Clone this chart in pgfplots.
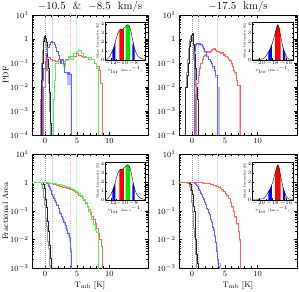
\documentclass[border=0pt]{standalone}
\usepackage{pgfplots}
\pgfplotsset{compat=1.18}
\definecolor{mblue}{rgb}{0.38,0.38,1}
\definecolor{lblue}{rgb}{0.72,0.72,1}
\definecolor{mred}{rgb}{1,0.38,0.38}
\definecolor{lred}{rgb}{1,0.72,0.72}
\definecolor{mgreen}{rgb}{0.35,0.95,0.35}
\definecolor{lgreen}{rgb}{0.55,1,0.55}
\definecolor{igreen}{rgb}{0,0.9,0}
\definecolor{mgray}{rgb}{0.6,0.6,0.6}
\definecolor{dblack}{rgb}{0.15,0.15,0.15}
\pgfplotsset{
  mainax/.style={scale only axis, anchor=south west,
    xmin=-2, xmax=16, xtick={0,5,10}, minor x tick num=4,
    major tick length=3bp, minor tick length=1.6bp,
    tick style={black, line width=0.4pt}, axis line style={line width=0.5pt},
    tick label style={font=\fontsize{8}{8}\selectfont},
    label style={font=\fontsize{8}{9}\selectfont},
    ylabel shift=-5bp,
    every axis title/.style={font=\fontsize{11}{11}\selectfont, at={(0.5,1)}, anchor=base, yshift=5bp},
    every axis plot/.append style={const plot, line width=0.45pt}},
  topax/.style={ymin=1e-4, ymax=10,
    ytick={1e-4,1e-3,1e-2,1e-1,1,10},
    yticklabels={$10^{-4}$,$10^{-3}$,$10^{-2}$,$10^{-1}$,$1$,$10^{1}$},
    height=120bp},
  botax/.style={ymin=1e-3, ymax=10,
    ytick={1e-3,1e-2,1e-1,1,10},
    yticklabels={$10^{-3}$,$10^{-2}$,$10^{-1}$,$1$,$10^{1}$},
    height=114bp, xlabel={T$_{\rm mb}$ [K]}, xlabel style={yshift=2bp}},
  vline/.style={sharp plot, dash pattern=on 0.5pt off 1.5pt, line width=0.35pt},
  inset/.style={scale only axis, anchor=south west, width=40bp, height=38bp,
    ymin=0, ymax=4.2, ytick={0,1,2,3,4}, minor y tick num=1, minor x tick num=1,
    major tick length=1.5bp, minor tick length=0.8bp,
    tick style={black, line width=0.3pt}, axis line style={line width=0.4pt},
    tick label style={font=\fontsize{3}{3}\selectfont, inner sep=0.6pt},
    label style={font=\fontsize{3.2}{3.5}\selectfont, inner sep=0.5pt},
    axis background/.style={fill=white},
    ylabel={Mean Intensity [K]}, xlabel={V$_{\rm lsr}$ (km s$^{-1}$)},
    every axis plot/.append style={sharp plot, line width=0.4pt}},
}
\begin{document}
\begin{tikzpicture}
\useasboundingbox (0bp,0bp) rectangle (299bp,292bp);
% ---------------- Top left PDF
\begin{axis}[ymode=log, mainax, topax, at={(32bp,157bp)}, width=116bp, title={$-10.5$\ \ \&\ \ $-8.5$\ \ km/s}, ylabel={PDF}]
\addplot[vline, mgray] coordinates {(0,1e-6)(0,100)};
\addplot[vline, lblue] coordinates {(1.1,1e-6)(1.1,100)};
\addplot[vline, lred] coordinates {(3.95,1e-6)(3.95,100)};
\addplot[vline, lgreen] coordinates {(4.85,1e-6)(4.85,100)};
\addplot[draw=none, fill=lblue, sharp plot] coordinates {(3.4,0.012)(4.0,0.012)(4.0,0.037)(3.4,0.037)} -- cycle;
\addplot[mgray] coordinates {(-0.8,1e-6)(-0.7,0.003)(-0.6,0.02)(-0.5,0.1)(-0.4,0.35)(-0.3,0.7)(-0.2,1.1)(-0.1,1.3)(0.0,1.0)(0.1,0.6)(0.2,0.3)(0.3,0.12)(0.4,0.05)(0.5,0.015)(0.6,0.004)(0.7,0.001)(0.8,1e-6)};
\addplot[dblack] coordinates {(-0.7,1e-6)(-0.6,0.002)(-0.5,0.02)(-0.4,0.1)(-0.3,0.35)(-0.2,0.8)(-0.1,1.3)(0.0,1.5)(0.1,1.1)(0.2,0.7)(0.3,0.35)(0.4,0.15)(0.5,0.06)(0.6,0.02)(0.7,0.006)(0.8,0.0015)(0.9,0.0003)(1.03,1e-6)};
\addplot[mred] coordinates {(-0.3,1e-6)(-0.25,0.01)(0.0,0.05)(0.2,0.12)(0.4,0.18)(0.8,0.15)(1.2,0.13)(1.6,0.12)(2.0,0.14)(2.4,0.13)(2.8,0.12)(3.2,0.15)(3.6,0.18)(4.0,0.2)(4.4,0.19)(4.8,0.25)(5.2,0.22)(5.6,0.2)(6.0,0.18)(6.4,0.17)(6.8,0.15)(7.2,0.14)(7.6,0.1)(8.0,0.07)(8.4,0.05)(8.6,0.014)(8.9,1e-6)};
\addplot[mgreen] coordinates {(1.3,1e-6)(1.35,0.003)(1.45,0.02)(1.6,0.1)(2.0,0.12)(2.4,0.1)(2.8,0.07)(3.2,0.13)(3.6,0.2)(4.0,0.15)(4.4,0.25)(4.8,0.3)(5.2,0.35)(5.6,0.25)(6.0,0.2)(6.4,0.18)(6.8,0.17)(7.2,0.15)(7.6,0.1)(8.0,0.06)(8.35,1e-6)};
\addplot[mblue] coordinates {(-0.5,1e-6)(-0.4,0.02)(-0.2,0.06)(0.0,0.12)(0.2,0.25)(0.4,0.45)(0.6,0.6)(0.8,0.75)(1.0,0.8)(1.2,0.75)(1.4,0.6)(1.6,0.45)(1.8,0.3)(2.0,0.22)(2.2,0.15)(2.4,0.1)(2.6,0.14)(2.8,0.1)(3.0,0.04)(3.2,0.04)(3.4,0.035)(3.6,0.04)(3.8,0.035)(4.1,1e-6)};
\end{axis}
% ---------------- Top right PDF
\begin{axis}[ymode=log, mainax, topax, at={(179bp,157bp)}, width=118bp, title={$-17.5$\ \ km/s}]
\addplot[vline, mgray] coordinates {(0,1e-6)(0,100)};
\addplot[vline, lblue] coordinates {(0.85,1e-6)(0.85,100)};
\addplot[vline, lred] coordinates {(3.75,1e-6)(3.75,100)};
\addplot[draw=none, fill=lblue, sharp plot] coordinates {(3.9,1e-5)(4.3,1e-5)(4.3,0.01)(3.9,0.01)} -- cycle;
\addplot[mgray] coordinates {(-1.2,1e-6)(-1.1,0.01)(-0.9,0.04)(-0.7,0.15)(-0.6,0.4)(-0.5,0.7)(-0.4,1.0)(-0.3,1.3)(-0.2,1.5)(-0.1,1.2)(0.0,0.8)(0.1,0.4)(0.2,0.15)(0.3,0.06)(0.4,0.02)(0.5,0.006)(0.6,0.002)(0.7,1e-6)};
\addplot[dblack] coordinates {(-1.1,1e-6)(-1.0,0.01)(-0.8,0.03)(-0.6,0.1)(-0.5,0.3)(-0.4,0.5)(-0.3,0.8)(-0.2,1.1)(-0.1,1.4)(0.0,1.7)(0.1,1.2)(0.2,0.6)(0.3,0.3)(0.4,0.12)(0.5,0.06)(0.6,0.03)(0.7,0.01)(0.8,0.003)(0.9,0.001)(1.0,1e-6)};
\addplot[lred] coordinates {(0.45,1e-6)(0.5,0.01)(0.7,0.02)(0.9,0.04)(1.1,0.07)(1.3,0.1)(1.5,0.16)(1.7,0.2)(1.9,0.24)(2.1,0.27)(2.3,0.3)(2.5,0.3)(2.7,0.33)(2.9,0.36)(3.1,0.4)(3.3,0.4)(3.5,0.34)(3.7,0.31)(3.9,0.3)(4.1,0.27)(4.3,0.26)(4.5,0.25)(4.7,0.23)(4.9,0.22)(5.1,0.19)(5.3,0.17)(5.5,0.14)(5.7,0.12)(5.9,0.09)(6.1,0.07)(6.3,0.05)(6.5,0.035)(6.7,0.02)(6.9,0.012)(7.25,1e-6)};
\addplot[mred] coordinates {(0.5,1e-6)(0.55,0.005)(0.7,0.015)(0.9,0.03)(1.1,0.06)(1.3,0.1)(1.5,0.15)(1.7,0.2)(1.9,0.22)(2.1,0.28)(2.3,0.3)(2.5,0.28)(2.7,0.32)(2.9,0.35)(3.1,0.38)(3.3,0.42)(3.5,0.35)(3.7,0.3)(3.9,0.32)(4.1,0.28)(4.3,0.25)(4.5,0.27)(4.7,0.22)(4.9,0.24)(5.1,0.2)(5.3,0.18)(5.5,0.15)(5.7,0.13)(5.9,0.1)(6.1,0.07)(6.3,0.05)(6.5,0.04)(6.7,0.02)(6.9,0.012)(7.3,1e-6)};
\addplot[lblue] coordinates {(0.3,1e-6)(0.32,0.25)(0.5,0.55)(0.7,0.6)(0.9,0.62)(1.1,0.6)(1.3,0.55)(1.5,0.45)(1.7,0.35)(1.9,0.28)(2.1,0.22)(2.3,0.18)(2.5,0.14)(2.7,0.11)(2.9,0.09)(3.1,0.06)(3.3,0.045)(3.5,0.025)(3.8,1e-6)};
\addplot[mblue] coordinates {(0.35,1e-6)(0.38,0.3)(0.5,0.6)(0.7,0.65)(0.9,0.6)(1.1,0.65)(1.3,0.6)(1.5,0.5)(1.7,0.4)(1.9,0.3)(2.1,0.2)(2.3,0.2)(2.5,0.15)(2.7,0.12)(2.9,0.1)(3.1,0.07)(3.3,0.05)(3.5,0.03)(3.8,1e-6)};
\end{axis}
% ---------------- Bottom left cumulative
\begin{axis}[ymode=log, mainax, botax, at={(32bp,24bp)}, width=116bp, ylabel={Fractional Area}]
\addplot[vline, mgray] coordinates {(0,1e-6)(0,100)};
\addplot[vline, lblue] coordinates {(1.1,1e-6)(1.1,100)};
\addplot[vline, lred] coordinates {(3.95,1e-6)(3.95,100)};
\addplot[vline, lgreen] coordinates {(4.85,1e-6)(4.85,100)};
\addplot[mgray] coordinates {(-2,1)(-0.6,0.95)(-0.5,0.85)(-0.4,0.65)(-0.3,0.45)(-0.2,0.3)(-0.1,0.18)(0.0,0.1)(0.1,0.055)(0.2,0.03)(0.3,0.017)(0.4,0.009)(0.5,0.005)(0.6,0.0025)(0.7,0.0013)(0.85,1e-6)};
\addplot[dblack] coordinates {(-2,1)(-0.3,0.97)(-0.2,0.85)(-0.1,0.65)(0.0,0.41)(0.1,0.25)(0.2,0.14)(0.3,0.08)(0.4,0.045)(0.5,0.02)(0.6,0.012)(0.7,0.0065)(0.8,0.004)(0.9,0.0022)(1.03,1e-6)};
\addplot[lblue] coordinates {(-2,1)(0.3,0.98)(0.4,0.95)(0.5,0.88)(0.6,0.8)(0.7,0.72)(0.8,0.65)(0.9,0.57)(1.0,0.5)(1.2,0.38)(1.4,0.29)(1.6,0.22)(1.8,0.17)(2.0,0.13)(2.2,0.1)(2.4,0.078)(2.6,0.06)(2.8,0.046)(3.0,0.034)(3.2,0.025)(3.4,0.018)(3.6,0.013)(3.8,0.009)(4.0,0.005)(4.15,1e-6)};
\addplot[mblue] coordinates {(-2,1)(0.25,0.97)(0.35,0.92)(0.45,0.85)(0.55,0.77)(0.65,0.7)(0.75,0.62)(0.85,0.54)(0.95,0.46)(1.05,0.4)(1.15,0.34)(1.3,0.29)(1.45,0.24)(1.6,0.2)(1.8,0.16)(2.0,0.125)(2.15,0.1)(2.3,0.085)(2.5,0.068)(2.7,0.053)(2.9,0.042)(3.1,0.031)(3.3,0.022)(3.5,0.016)(3.7,0.012)(3.9,0.0085)(4.0,0.004)(4.1,1e-6)};
\addplot[mred] coordinates {(-2,1)(0.25,1)(0.5,0.98)(0.75,0.955)(1.0,0.93)(1.25,0.9)(1.5,0.87)(1.75,0.835)(2.0,0.8)(2.25,0.77)(2.5,0.74)(2.75,0.71)(3.0,0.68)(3.25,0.65)(3.5,0.62)(3.75,0.59)(4.0,0.56)(4.25,0.52)(4.5,0.48)(4.75,0.445)(5.0,0.41)(5.25,0.37)(5.5,0.33)(5.75,0.285)(6.0,0.24)(6.25,0.19)(6.5,0.15)(6.75,0.115)(7.0,0.09)(7.25,0.068)(7.5,0.05)(7.75,0.036)(8.0,0.025)(8.25,0.016)(8.5,0.01)(8.7,0.006)(8.9,1e-6)};
\addplot[mgreen] coordinates {(-2,1)(0.5,0.99)(0.75,0.975)(1.0,0.96)(1.25,0.94)(1.5,0.92)(1.75,0.9)(2.0,0.88)(2.25,0.85)(2.5,0.82)(2.75,0.79)(3.0,0.76)(3.25,0.73)(3.5,0.7)(3.75,0.665)(4.0,0.63)(4.25,0.59)(4.5,0.55)(4.75,0.51)(5.0,0.47)(5.25,0.42)(5.5,0.37)(5.75,0.315)(6.0,0.26)(6.25,0.2)(6.5,0.14)(6.75,0.1)(7.0,0.075)(7.25,0.05)(7.5,0.035)(7.75,0.022)(8.0,0.018)(8.35,1e-6)};
\end{axis}
% ---------------- Bottom right cumulative
\begin{axis}[ymode=log, mainax, botax, at={(179bp,24bp)}, width=118bp]
\addplot[vline, mgray] coordinates {(0,1e-6)(0,100)};
\addplot[vline, lblue] coordinates {(0.85,1e-6)(0.85,100)};
\addplot[vline, lred] coordinates {(3.75,1e-6)(3.75,100)};
\addplot[mgray] coordinates {(-2,1)(-0.7,0.97)(-0.5,0.9)(-0.4,0.75)(-0.3,0.55)(-0.2,0.35)(-0.1,0.2)(0.0,0.1)(0.1,0.05)(0.2,0.025)(0.3,0.012)(0.4,0.006)(0.5,0.003)(0.6,0.0015)(0.7,1e-6)};
\addplot[dblack] coordinates {(-2,1)(-0.5,0.98)(-0.3,0.9)(-0.2,0.75)(-0.1,0.55)(0.0,0.4)(0.1,0.25)(0.2,0.15)(0.3,0.1)(0.4,0.03)(0.5,0.01)(0.6,0.005)(0.7,0.003)(0.8,0.0015)(0.9,1e-6)};
\addplot[lblue] coordinates {(-2,1)(0.3,0.98)(0.4,0.95)(0.5,0.91)(0.6,0.86)(0.7,0.8)(0.8,0.74)(0.9,0.68)(1.0,0.61)(1.1,0.55)(1.2,0.49)(1.3,0.44)(1.4,0.39)(1.5,0.34)(1.6,0.3)(1.7,0.27)(1.8,0.235)(1.9,0.2)(2.0,0.175)(2.1,0.15)(2.2,0.13)(2.3,0.115)(2.4,0.1)(2.5,0.085)(2.6,0.074)(2.7,0.062)(2.8,0.052)(2.9,0.043)(3.0,0.036)(3.1,0.03)(3.2,0.024)(3.3,0.018)(3.4,0.014)(3.5,0.011)(3.6,0.008)(3.7,0.006)(3.85,0.0015)(4.3,1e-6)};
\addplot[mblue] coordinates {(-2,1)(0.2,0.99)(0.3,0.97)(0.4,0.94)(0.5,0.9)(0.6,0.85)(0.7,0.79)(0.8,0.72)(0.9,0.66)(1.0,0.6)(1.1,0.54)(1.2,0.48)(1.3,0.43)(1.4,0.38)(1.5,0.34)(1.6,0.3)(1.7,0.265)(1.8,0.23)(1.9,0.2)(2.0,0.17)(2.1,0.15)(2.2,0.13)(2.3,0.115)(2.4,0.1)(2.5,0.087)(2.6,0.075)(2.7,0.062)(2.8,0.05)(2.9,0.042)(3.0,0.035)(3.1,0.028)(3.2,0.022)(3.3,0.017)(3.4,0.013)(3.5,0.01)(3.6,0.008)(3.7,0.004)(3.8,0.002)(4.0,0.0012)(4.1,1e-6)};
\addplot[lred] coordinates {(-2,1)(1.2,0.99)(1.5,0.98)(1.75,0.97)(2.0,0.955)(2.25,0.935)(2.5,0.91)(2.75,0.88)(3.0,0.85)(3.25,0.81)(3.5,0.77)(3.75,0.72)(4.0,0.67)(4.25,0.61)(4.5,0.55)(4.75,0.48)(5.0,0.41)(5.25,0.34)(5.5,0.27)(5.75,0.2)(6.0,0.14)(6.25,0.095)(6.5,0.06)(6.75,0.035)(7.0,0.018)(7.15,0.009)(7.3,1e-6)};
\addplot[mred] coordinates {(-2,1)(1.0,0.995)(1.5,0.985)(1.75,0.975)(2.0,0.96)(2.25,0.94)(2.5,0.92)(2.75,0.89)(3.0,0.86)(3.25,0.82)(3.5,0.78)(3.75,0.73)(4.0,0.68)(4.25,0.62)(4.5,0.56)(4.75,0.49)(5.0,0.42)(5.25,0.35)(5.5,0.28)(5.75,0.21)(6.0,0.15)(6.25,0.1)(6.5,0.065)(6.75,0.038)(7.0,0.02)(7.15,0.01)(7.3,1e-6)};
\end{axis}
% ---------------- Insets: left (-12..-8)
\begin{axis}[inset, at={(105bp,232bp)}, xmin=-13, xmax=-6, xtick={-12,-10,-8}]
\addplot[fill=blue, draw=none] coordinates {(-11.7,1.0)(-11.4,1.5)(-11.2,1.9)} \closedcycle;
\addplot[fill=red, draw=none] coordinates {(-10.5,3.3)(-10.2,3.4)(-9.9,3.4)(-9.7,3.5)} \closedcycle;
\addplot[fill=igreen, draw=none] coordinates {(-9.4,3.75)(-9.3,3.8)(-9.0,3.9)(-8.7,3.7)(-8.6,3.5)} \closedcycle;
\addplot[fill=blue, draw=none] coordinates {(-8.2,1.6)(-8.1,2.0)(-7.8,1.2)} \closedcycle;
\addplot[black] coordinates {(-13.0,0.05)(-12.6,0.1)(-12.3,0.3)(-12.0,0.6)(-11.7,1.0)(-11.4,1.5)(-11.1,2.2)(-10.8,2.9)(-10.5,3.3)(-10.2,3.4)(-9.9,3.4)(-9.6,3.6)(-9.3,3.8)(-9.0,3.9)(-8.7,3.7)(-8.4,3.0)(-8.1,2.0)(-7.8,1.2)(-7.5,0.7)(-7.2,0.4)(-6.9,0.25)(-6.6,0.15)(-6.3,0.1)(-6.0,0.05)};
\end{axis}
\begin{axis}[inset, at={(105bp,92bp)}, xmin=-13, xmax=-6, xtick={-12,-10,-8}]
\addplot[fill=blue, draw=none] coordinates {(-11.7,1.0)(-11.4,1.5)(-11.2,1.9)} \closedcycle;
\addplot[fill=red, draw=none] coordinates {(-10.5,3.3)(-10.2,3.4)(-9.9,3.4)(-9.7,3.5)} \closedcycle;
\addplot[fill=igreen, draw=none] coordinates {(-9.4,3.75)(-9.3,3.8)(-9.0,3.9)(-8.7,3.7)(-8.6,3.5)} \closedcycle;
\addplot[fill=blue, draw=none] coordinates {(-8.2,1.6)(-8.1,2.0)(-7.8,1.2)} \closedcycle;
\addplot[black] coordinates {(-13.0,0.05)(-12.6,0.1)(-12.3,0.3)(-12.0,0.6)(-11.7,1.0)(-11.4,1.5)(-11.1,2.2)(-10.8,2.9)(-10.5,3.3)(-10.2,3.4)(-9.9,3.4)(-9.6,3.6)(-9.3,3.8)(-9.0,3.9)(-8.7,3.7)(-8.4,3.0)(-8.1,2.0)(-7.8,1.2)(-7.5,0.7)(-7.2,0.4)(-6.9,0.25)(-6.6,0.15)(-6.3,0.1)(-6.0,0.05)};
\end{axis}
% ---------------- Insets: right (-20..-16)
\begin{axis}[inset, at={(252bp,232bp)}, width=41bp, xmin=-21, xmax=-15, xtick={-20,-18,-16}]
\addplot[fill=blue, draw=none] coordinates {(-18.6,0.9)(-18.3,1.3)(-18.1,1.7)} \closedcycle;
\addplot[fill=red, draw=none] coordinates {(-17.6,3.0)(-17.4,3.6)(-17.2,3.9)(-17.0,3.5)(-16.8,2.6)} \closedcycle;
\addplot[fill=blue, draw=none] coordinates {(-16.5,1.5)(-16.2,0.8)(-16.1,0.65)} \closedcycle;
\addplot[black] coordinates {(-21,0.05)(-20.4,0.05)(-19.8,0.08)(-19.5,0.12)(-19.2,0.2)(-18.9,0.5)(-18.6,0.9)(-18.3,1.3)(-18.0,1.9)(-17.7,2.7)(-17.4,3.6)(-17.2,3.9)(-17.0,3.5)(-16.8,2.6)(-16.5,1.5)(-16.2,0.8)(-15.9,0.3)(-15.6,0.1)(-15.0,0.05)};
\end{axis}
\begin{axis}[inset, at={(252bp,92bp)}, width=41bp, xmin=-21, xmax=-15, xtick={-20,-18,-16}]
\addplot[fill=blue, draw=none] coordinates {(-18.6,0.9)(-18.3,1.3)(-18.1,1.7)} \closedcycle;
\addplot[fill=red, draw=none] coordinates {(-17.6,3.0)(-17.4,3.6)(-17.2,3.9)(-17.0,3.5)(-16.8,2.6)} \closedcycle;
\addplot[fill=blue, draw=none] coordinates {(-16.5,1.5)(-16.2,0.8)(-16.1,0.65)} \closedcycle;
\addplot[black] coordinates {(-21,0.05)(-20.4,0.05)(-19.8,0.08)(-19.5,0.12)(-19.2,0.2)(-18.9,0.5)(-18.6,0.9)(-18.3,1.3)(-18.0,1.9)(-17.7,2.7)(-17.4,3.6)(-17.2,3.9)(-17.0,3.5)(-16.8,2.6)(-16.5,1.5)(-16.2,0.8)(-15.9,0.3)(-15.6,0.1)(-15.0,0.05)};
\end{axis}
\end{tikzpicture}
\end{document}
